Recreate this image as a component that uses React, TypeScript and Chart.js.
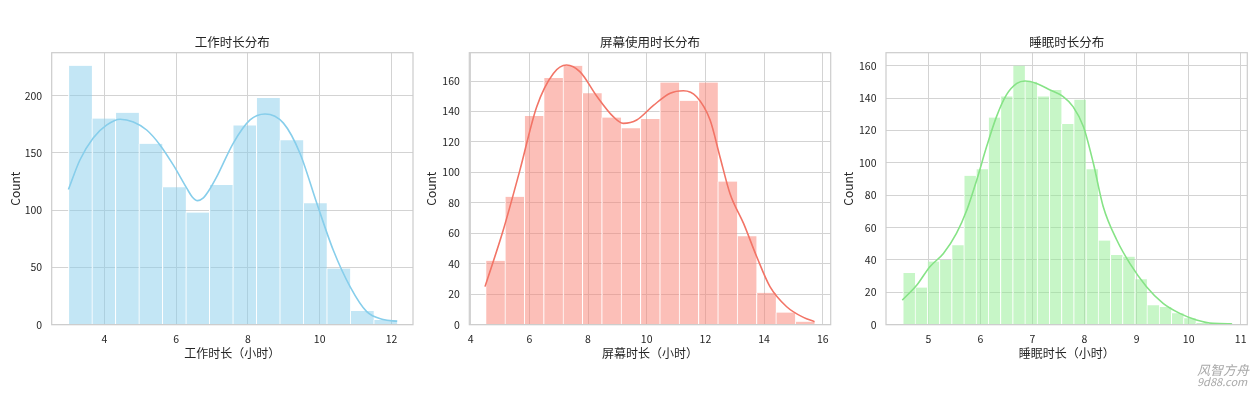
import React, { useEffect, useRef } from "react";
import { Chart, registerables } from "chart.js";

Chart.register(...registerables);

const FONT = '"Noto Sans CJK SC", "Noto Sans", sans-serif';
const TEXT = "#262626";

// ---------- 工作时长 ----------
const workTitle = "工作时长分布";
const workXLabel = "工作时长（小时）";
const workBinRange = [3.0, 12.16];
const workCounts = [226, 180, 185, 158, 120, 98, 122, 174, 198, 161, 106, 49, 12, 4];
const workKdeX = [3.0, 3.32, 3.69, 4.07, 4.44, 4.81, 5.18, 5.55, 5.92, 6.3, 6.45, 6.6, 6.75, 6.9, 7.13, 7.59, 8.06, 8.48, 8.99, 9.45, 9.92, 10.38, 10.85, 11.31, 11.77, 12.16];
const workKdeY = [118, 143.8, 163, 174.4, 179.4, 177, 170, 157, 139.5, 119, 111.5, 108.3, 110.5, 116.5, 129, 158.4, 178.8, 184, 176, 149.7, 106, 65, 33, 11.4, 4.6, 3];
const workXTicks = [4, 6, 8, 10, 12];
const workYTicks = [0, 50, 100, 150, 200];
const workXRange = [2.534, 12.6];
const workYRange = [0, 237.5];

// ---------- 屏幕时长 ----------
const screenTitle = "屏幕使用时长分布";
const screenXLabel = "屏幕时长（小时）";
const screenBinRange = [4.51, 15.72];
const screenCounts = [42, 84, 137, 162, 170, 152, 136, 129, 135, 159, 147, 159, 94, 58, 21, 8, 2];
const screenKdeX = [4.49, 5.11, 5.68, 6.25, 6.82, 7.27, 7.73, 8.3, 8.86, 9.2, 9.66, 10.23, 10.8, 11.25, 11.7, 12.16, 12.5, 12.84, 13.3, 13.75, 14.2, 14.77, 15.34, 15.72];
const screenKdeY = [25, 62, 101.5, 143, 165, 170.5, 166, 150, 136.6, 132.2, 134.4, 144, 152, 153.6, 149.7, 134.4, 110, 86, 66.5, 44.6, 25, 11.8, 4.8, 2];
const screenXTicks = [4, 6, 8, 10, 12, 14, 16];
const screenYTicks = [0, 20, 40, 60, 80, 100, 120, 140, 160];
const screenXRange = [3.955, 16.27];
const screenYRange = [0, 178.6];

// ---------- 睡眠时长 ----------
const sleepTitle = "睡眠时长分布";
const sleepXLabel = "睡眠时长（小时）";
const sleepBinRange = [4.51, 10.84];
const sleepCounts = [32, 23, 39, 40, 49, 92, 96, 128, 141, 160, 150, 141, 145, 124, 139, 96, 52, 43, 42, 28, 12, 11, 7, 4, 1, 1, 1];
const sleepKdeX = [4.5, 4.78, 5.03, 5.29, 5.54, 5.74, 5.93, 6.12, 6.31, 6.5, 6.7, 6.86, 7.08, 7.34, 7.59, 7.78, 7.98, 8.17, 8.36, 8.62, 8.87, 9.19, 9.51, 9.83, 10.15, 10.47, 10.83];
const sleepKdeY = [15.2, 24.5, 35.8, 44, 56.4, 70.8, 89.4, 110, 128.5, 141.9, 149, 150.5, 149, 145, 140.9, 134.7, 122.3, 99.7, 72.9, 52.3, 37.9, 23.5, 13.2, 7, 2.9, 0.8, 0.6];
const sleepXTicks = [5, 6, 7, 8, 9, 10, 11];
const sleepYTicks = [0, 20, 40, 60, 80, 100, 120, 140, 160];
const sleepXRange = [4.187, 11.127];
const sleepYRange = [0, 168];

type Props = {
  left: number;
  width: number;
  plotLeft: number;
  plotRight: number;
  yTitlePad: number;
  title: string;
  xLabel: string;
  binRange: number[];
  counts: number[];
  kdeX: number[];
  kdeY: number[];
  xTicks: number[];
  yTicks: number[];
  xRange: number[];
  yRange: number[];
  barColor: string;
  lineColor: string;
};

const HEIGHT = 340;
const PLOT_TOP = 22.7;
const PLOT_BOTTOM = 294.7;

function HistChart(p: Props) {
  const ref = useRef<HTMLCanvasElement | null>(null);
  useEffect(() => {
    if (!ref.current) return;
    const n = p.counts.length;
    const w = (p.binRange[1] - p.binRange[0]) / n;
    const bars = p.counts.map((c, i) => ({ x: p.binRange[0] + w * (i + 0.5), y: c }));
    const kde = p.kdeX.map((x, i) => ({ x, y: p.kdeY[i] }));

    const framePlugin = {
      id: "frameTitle",
      afterDatasetsDraw(chart: any) {
        const { ctx, chartArea: a } = chart;
        ctx.save();
        ctx.strokeStyle = "#cccccc";
        ctx.lineWidth = 1.2;
        ctx.strokeRect(a.left, a.top, a.right - a.left, a.bottom - a.top);
        ctx.restore();
      },
      afterDraw(chart: any) {
        const { ctx, chartArea: a } = chart;
        ctx.save();
        ctx.fillStyle = TEXT;
        ctx.font = `12.5px ${FONT}`;
        ctx.textAlign = "center";
        ctx.textBaseline = "middle";
        ctx.fillText(p.title, (a.left + a.right) / 2, a.top - 10);
        ctx.restore();
      },
    };

    const chart = new Chart(ref.current, {
      type: "bar",
      data: {
        datasets: [
          {
            type: "line",
            data: kde,
            borderColor: p.lineColor,
            borderWidth: 1.6,
            pointRadius: 0,
            cubicInterpolationMode: "monotone",
            fill: false,
            order: 0,
          } as any,
          {
            type: "bar",
            data: bars,
            backgroundColor: p.barColor,
            borderColor: "#ffffff",
            borderWidth: { left: 1, right: 0, top: 0, bottom: 0 },
            borderSkipped: false,
            barPercentage: 1,
            categoryPercentage: 1,
            order: 1,
          } as any,
        ],
      },
      options: {
        animation: false,
        responsive: false,
        events: [],
        layout: {
          padding: { left: 0, right: p.width - p.plotRight, top: PLOT_TOP, bottom: 0 },
        },
        plugins: { legend: { display: false }, tooltip: { enabled: false }, title: { display: false } },
        scales: {
          x: {
            type: "linear",
            min: p.xRange[0],
            max: p.xRange[1],
            offset: false,
            grid: { color: "#d3d3d3", lineWidth: 1, drawTicks: false, offset: false },
            border: { display: false },
            ticks: { color: TEXT, font: { family: FONT, size: 10.5 }, padding: 8.3, maxRotation: 0 },
            afterBuildTicks: (s: any) => {
              s.ticks = p.xTicks.map((v) => ({ value: v }));
            },
            afterFit: (s: any) => {
              s.height = HEIGHT - PLOT_BOTTOM;
            },
            title: {
              display: true,
              text: p.xLabel,
              color: TEXT,
              font: { family: FONT, size: 12 },
              padding: { top: 0, bottom: 9.5 },
            },
          },
          y: {
            type: "linear",
            min: p.yRange[0],
            max: p.yRange[1],
            grid: { color: "#d3d3d3", lineWidth: 1, drawTicks: false },
            border: { display: false },
            ticks: { color: TEXT, font: { family: FONT, size: 10.5 }, padding: 9.5 },
            afterBuildTicks: (s: any) => {
              s.ticks = p.yTicks.map((v) => ({ value: v }));
            },
            afterFit: (s: any) => {
              s.width = p.plotLeft;
            },
            title: {
              display: true,
              text: "Count",
              color: TEXT,
              font: { family: FONT, size: 12 },
              padding: { top: p.yTitlePad, bottom: 0 },
            },
          },
        },
      } as any,
      plugins: [framePlugin],
    });
    return () => chart.destroy();
  }, []);
  return (
    <canvas
      ref={ref}
      width={p.width}
      height={HEIGHT}
      style={{ position: "absolute", left: p.left, top: 30, width: p.width, height: HEIGHT }}
    />
  );
}

export default function App() {
  return (
    <div style={{ position: "absolute", left: 0, top: 0, width: 1260, height: 393, background: "#ffffff", overflow: "hidden" }}>
      <HistChart
        left={0}
        width={420}
        plotLeft={51.7}
        plotRight={413}
        yTitlePad={7.8}
        title={workTitle}
        xLabel={workXLabel}
        binRange={workBinRange}
        counts={workCounts}
        kdeX={workKdeX}
        kdeY={workKdeY}
        xTicks={workXTicks}
        yTicks={workYTicks}
        xRange={workXRange}
        yRange={workYRange}
        barColor="rgba(135,206,235,0.5)"
        lineColor="#87CEEB"
      />
      <HistChart
        left={420}
        width={420}
        plotLeft={49.3}
        plotRight={410.7}
        yTitlePad={4.5}
        title={screenTitle}
        xLabel={screenXLabel}
        binRange={screenBinRange}
        counts={screenCounts}
        kdeX={screenKdeX}
        kdeY={screenKdeY}
        xTicks={screenXTicks}
        yTicks={screenYTicks}
        xRange={screenXRange}
        yRange={screenYRange}
        barColor="rgba(250,128,114,0.5)"
        lineColor="#F27466"
      />
      <HistChart
        left={830}
        width={430}
        plotLeft={56}
        plotRight={417.3}
        yTitlePad={10.8}
        title={sleepTitle}
        xLabel={sleepXLabel}
        binRange={sleepBinRange}
        counts={sleepCounts}
        kdeX={sleepKdeX}
        kdeY={sleepKdeY}
        xTicks={sleepXTicks}
        yTicks={sleepYTicks}
        xRange={sleepXRange}
        yRange={sleepYRange}
        barColor="rgba(144,238,144,0.5)"
        lineColor="#86E386"
      />
      <div
        style={{
          position: "absolute",
          left: 1197,
          top: 364,
          width: 60,
          fontFamily: FONT,
          fontStyle: "italic",
          color: "#a8a8a8",
          textAlign: "left",
          lineHeight: "11px",
        }}
      >
        <div style={{ fontSize: 13, letterSpacing: 0 }}>风智方舟</div>
        <div style={{ fontSize: 11, marginTop: 1 }}>9d88.com</div>
      </div>
    </div>
  );
}
